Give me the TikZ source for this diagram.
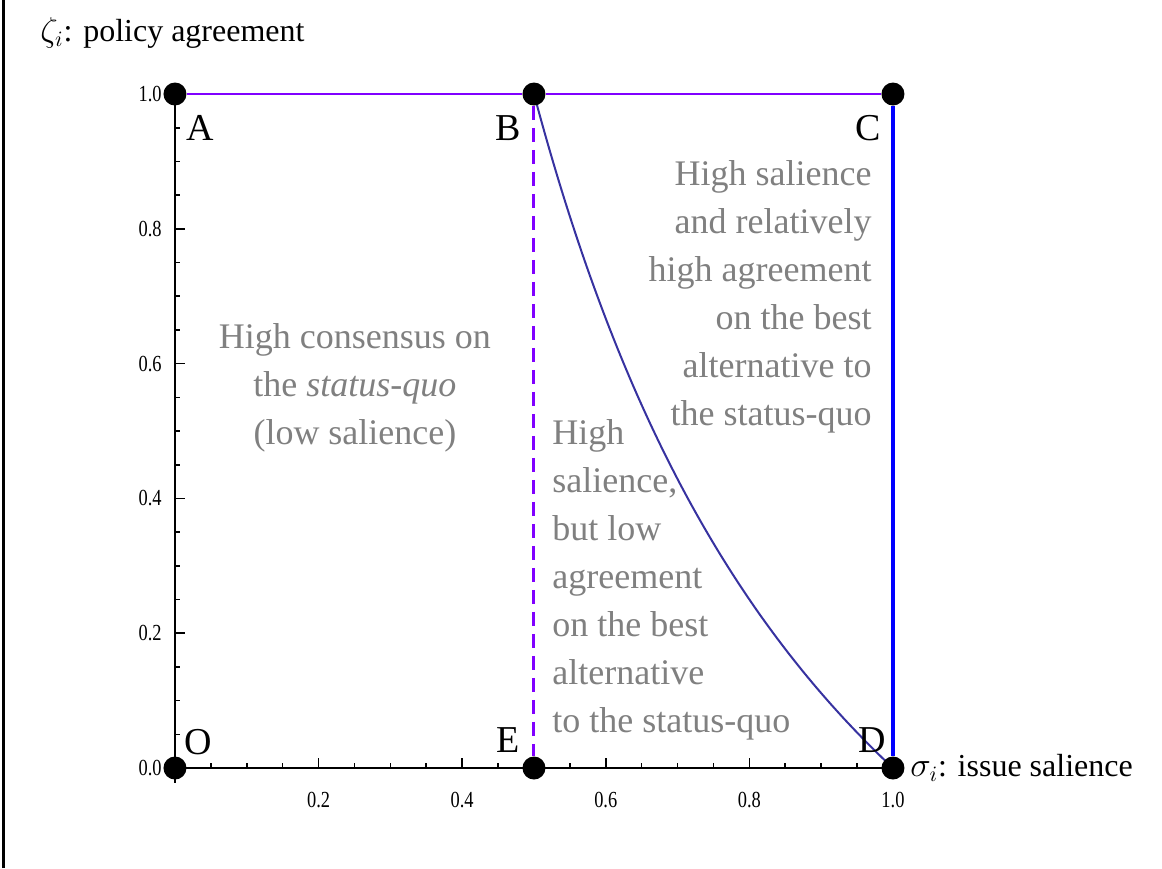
\documentclass[tikz,border=0pt]{standalone}
\usepackage{fontspec}
\setmainfont{Liberation Serif}
\usetikzlibrary{positioning}
\definecolor{violetline}{RGB}{128,0,255}
\definecolor{bluewall}{RGB}{0,0,255}
\definecolor{frontier}{RGB}{55,50,160}
\definecolor{regiongray}{RGB}{128,128,128}
\newcommand{\ticktext}[1]{\scalebox{0.8}[1]{#1}}
\tikzset{
  dot/.style={circle,fill=black,inner sep=0pt,minimum size=11.5pt},
  corner/.style={font=\fontsize{19}{19}\selectfont,inner sep=0pt},
  region/.style={text=regiongray,font=\fontsize{18}{24}\selectfont,inner sep=0pt},
  ticklabel/.style={font=\fontsize{11.5}{11.5}\selectfont,inner sep=0pt},
  axistitle/.style={font=\fontsize{16}{16}\selectfont,inner sep=0pt,anchor=west},
  axisline/.style={line width=1pt},
  tickline/.style={line width=0.8pt}
}

\begin{document}
\begin{tikzpicture}[x=359pt,y=337pt]
  \useasboundingbox (-0.2437,-0.1484) rectangle (1.3747,1.1395);
  \draw[line width=1.5pt] (-0.2382,-0.1484) -- (-0.2382,1.1395);
  %% axes and ticks
  \draw[axisline] (0,0) -- (1,0);
  \draw[axisline] (0,-0.022) -- (0,1);
  \foreach \i in {1,...,20} {
    \draw[tickline] (\i/20,0) -- ++(0,2.5pt);
    \draw[tickline] (0,\i/20) -- ++(2.5pt,0);
  }
  \foreach \t in {0.2,0.4,0.6,0.8,1.0} {
    \draw[tickline] (\t,0) -- ++(0,5pt);
    \draw[tickline] (0,\t) -- ++(5pt,0);
    \node[ticklabel,yshift=-16pt] at (\t,0) {\ticktext{\t}};
    \node[ticklabel,anchor=east,xshift=-6.5pt] at (0,\t) {\ticktext{\t}};
  }
  \node[ticklabel,anchor=east,xshift=-6.5pt] at (0,0) {\ticktext{0.0}};
  %% frontier curve
  \draw[frontier,line width=1pt] plot[domain=0.5:1,samples=60,smooth] (\x,{1/\x-1});
  %% corners
  \node[dot] (O) at (0,0) {};
  \node[dot] (A) at (0,1) {};
  \node[dot] (B) at (0.5,1) {};
  \node[dot] (C) at (1,1) {};
  \node[dot] (D) at (1,0) {};
  \node[dot] (E) at (0.5,0) {};
  \draw[violetline,line width=1pt] (A) -- (B) -- (C);
  \draw[bluewall,line width=1.6pt] (C) -- (D);
  \draw[violetline,line width=1.5pt,dash pattern=on 7pt off 4pt] (B) -- (E);
  %%
  \node[corner] (lA) at (0.0348,0.9496) {A};
  \node[corner] (lB) at (0.4638,0.9496) {B};
  \node[corner] (lC) at (0.9652,0.9496) {C};
  \node[corner] (lD) at (0.9708,0.0415) {D};
  \node[corner] (lE) at (0.4638,0.0415) {E};
  \node[corner] (lO) at (0.0320,0.0386) {O};
  %%
  \node[region,align=center] (lowsal) at (0.2507,0.5638)
    {High consensus on\\the \textit{status-quo}\\(low salience)};
  \node[region,align=left,anchor=west] (lowagr) at (0.525,0.279)
    {High\\salience,\\but low\\agreement\\on the best\\alternative\\to the status-quo};
  \node[region,align=right,anchor=east] (highagr) at (0.9708,0.6988)
    {High salience\\and relatively\\high agreement\\on the best\\alternative to\\the status-quo};
  %%
  \node[axistitle] (ytitle) at (-0.188,1.0905) {$\zeta_i$: policy agreement};
  \node[axistitle] (xtitle) at (1.0237,0) {$\sigma_i$: issue salience};
\end{tikzpicture}
\end{document}
